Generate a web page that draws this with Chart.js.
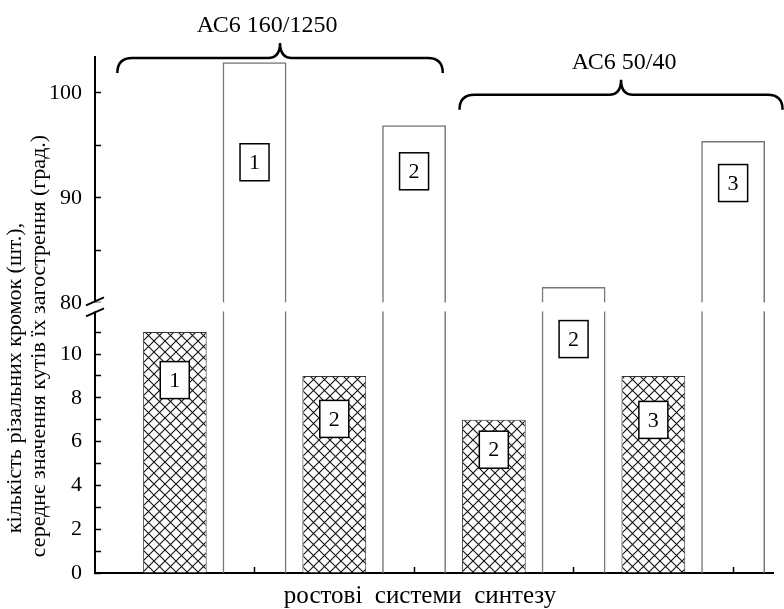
<!DOCTYPE html>
<html>
<head>
<meta charset="utf-8">
<script src="https://cdn.jsdelivr.net/npm/chart.js@4.4.1/dist/chart.umd.min.js"></script>
<style>
  body { margin: 0; background: #fff; }
  #wrap { width: 784px; height: 609px; }
</style>
</head>
<body>
<div id="wrap"><canvas id="growthChart"></canvas></div>
<script>
// values
const edgeX = [1, 3, 5, 7];                    // hatched bars
const edgeCounts = [11, 9, 7, 9];              // кількість різальних кромок, шт.
const edgeTags = ['1', '2', '2', '3'];
const angleX = [2, 4, 6, 8];                   // open bars
const meanAngles = [102.9, 96.9, 81.5, 95.4];  // середнє значення кутів, град.
const angleTags = ['1', '2', '2', '3'];
const groupLabels = ['АС6 160/1250', 'АС6 50/40'];
const xTicks = [1, 2, 3, 4, 5, 6, 7, 8];
const lowerTicks = [0, 1, 2, 3, 4, 5, 6, 7, 8, 9, 10, 11];
const upperTicks = [80, 85, 90, 95, 100];

const yTitle = ['кількість різальних кромок (шт.),', 'середнє значення кутів їх загострення (град.)'];
const xTitle = 'ростові  системи  синтезу';

// layout bits (px below bar top for the tag boxes, brace spans in axis units)
const tagDrops = { edges: [48, 43, 30, 44], angles: [100, 46, 52, 42] };
const braces = [
    { from: 0.28, to: 4.36, at: 103.3, dx: -13 },
    { from: 4.57, to: 8.62, at: 99.8, dx: 3 },
];

const SERIF = '"Liberation Serif", "Times New Roman", serif';

// cross hatch fill
function makeHatch() {
    const size = 11;
    const c = document.createElement('canvas');
    c.width = size;
    c.height = size;
    const g = c.getContext('2d');
    g.fillStyle = '#fff';
    g.fillRect(0, 0, size, size);
    g.strokeStyle = '#111';
    g.lineWidth = 1.1;
    g.beginPath();
    g.moveTo(-1, -1); g.lineTo(size + 1, size + 1);
    g.moveTo(size + 1, -1); g.lineTo(-1, size + 1);
    g.stroke();
    return g.createPattern(c, 'repeat');
}

function drawTag(ctx, x, y, text) {
    ctx.font = '22px ' + SERIF;
    const w = 29, h = 37;
    ctx.fillStyle = '#fff';
    ctx.fillRect(x - w / 2, y - h / 2, w, h);
    ctx.strokeStyle = '#000';
    ctx.lineWidth = 1.5;
    ctx.strokeRect(x - w / 2, y - h / 2, w, h);
    ctx.fillStyle = '#000';
    ctx.textAlign = 'center';
    ctx.textBaseline = 'middle';
    ctx.fillText(text, x, y + 1);
}

function drawBrace(ctx, x0, x1, yFlat) {
    const h = 15, r = 15, rc = 12;
    const xm = (x0 + x1) / 2;
    ctx.beginPath();
    ctx.moveTo(x0, yFlat + h);
    ctx.quadraticCurveTo(x0, yFlat, x0 + r, yFlat);
    ctx.lineTo(xm - rc, yFlat);
    ctx.quadraticCurveTo(xm, yFlat, xm, yFlat - h);
    ctx.quadraticCurveTo(xm, yFlat, xm + rc, yFlat);
    ctx.lineTo(x1 - r, yFlat);
    ctx.quadraticCurveTo(x1, yFlat, x1, yFlat + h);
    ctx.strokeStyle = '#000';
    ctx.lineWidth = 2.5;
    ctx.stroke();
    return xm;
}

const decor = {
    id: 'decor',
    afterDatasetsDraw(chart) {
        const ctx = chart.ctx;
        ctx.save();
        chart.getDatasetMeta(0).data.forEach((bar, i) => drawTag(ctx, bar.x, bar.y + tagDrops.edges[i], edgeTags[i]));
        chart.getDatasetMeta(1).data.forEach((bar, i) => drawTag(ctx, bar.x, bar.y + tagDrops.angles[i], angleTags[i]));
        ctx.restore();
    },
    afterDraw(chart) {
        const ctx = chart.ctx;
        const area = chart.chartArea;
        const xs = chart.scales.x, yl = chart.scales.y, yu = chart.scales.y2;
        ctx.save();

        // axis break
        const gapTop = yu.getPixelForValue(80) - 0.5;
        const gapBottom = yl.top + 1.2;
        ctx.fillStyle = '#fff';
        ctx.fillRect(area.left - 2, gapTop, area.right - area.left + 4, gapBottom - gapTop);
        ctx.strokeStyle = '#000';
        ctx.lineWidth = 2;
        [gapTop - 1, gapBottom + 1].forEach(yc => {
            ctx.beginPath();
            ctx.moveTo(area.left - 9, yc + 4);
            ctx.lineTo(area.left + 9, yc - 4);
            ctx.stroke();
        });

        // group braces with labels
        braces.forEach((b, i) => {
            const yFlat = yu.getPixelForValue(b.at);
            const xm = drawBrace(ctx, xs.getPixelForValue(b.from), xs.getPixelForValue(b.to), yFlat);
            ctx.font = '24px ' + SERIF;
            ctx.fillStyle = '#000';
            ctx.textAlign = 'center';
            ctx.textBaseline = 'middle';
            ctx.fillText(groupLabels[i], xm + b.dx, yFlat - 32);
        });

        // axis titles
        ctx.fillStyle = '#000';
        ctx.font = '25px ' + SERIF;
        ctx.textAlign = 'center';
        ctx.textBaseline = 'alphabetic';
        ctx.fillText(xTitle, 420, 603);

        ctx.font = '22px ' + SERIF;
        ctx.textBaseline = 'middle';
        [[15, 378], [39, 346]].forEach(([tx, ty], i) => {
            ctx.save();
            ctx.translate(tx, ty);
            ctx.rotate(-Math.PI / 2);
            ctx.fillText(yTitle[i], 0, 0);
            ctx.restore();
        });
        ctx.restore();
    }
};

const tickFont = { family: SERIF, size: 22 };

new Chart(document.getElementById('growthChart'), {
    type: 'bar',
    data: {
        datasets: [
            {
                label: 'кромки',
                data: edgeX.map((x, i) => ({ x: x, y: edgeCounts[i] })),
                yAxisID: 'y',
                backgroundColor: makeHatch(),
                borderColor: '#333',
                borderWidth: 1,
                grouped: false,
                categoryPercentage: 1,
                barPercentage: 0.8,
            },
            {
                label: 'кути',
                data: angleX.map((x, i) => ({ x: x, y: meanAngles[i] })),
                yAxisID: 'y2',
                base: 0,
                // bars run down through the lower part of the broken axis
                clip: { left: 2, right: 2, top: 2, bottom: 262.8 },
                backgroundColor: 'rgba(0,0,0,0)',
                borderColor: '#777',
                borderWidth: 1.5,
                grouped: false,
                categoryPercentage: 1,
                barPercentage: 0.8,
            },
        ],
    },
    options: {
        responsive: true,
        maintainAspectRatio: false,
        animation: false,
        layout: { padding: { top: 57, right: 11, left: 0, bottom: 0 } },
        plugins: {
            legend: { display: false },
            tooltip: { enabled: false },
        },
        scales: {
            x: {
                type: 'linear',
                min: 0,
                max: 8.5,
                offset: false,
                afterBuildTicks: s => { s.ticks = xTicks.map(v => ({ value: v })); },
                afterFit: s => { s.height = 36; },
                ticks: { display: false },
                grid: { offset: false, drawOnChartArea: false, tickLength: -6, tickWidth: 1.5, tickColor: '#000' },
                border: { color: '#000', width: 2 },
            },
            y: {
                type: 'linear',
                position: 'left',
                stack: 'v',
                stackWeight: 262.8,
                min: 0,
                max: 12,
                afterBuildTicks: s => { s.ticks = lowerTicks.map(v => ({ value: v })); },
                afterFit: s => { s.width = 95; },
                ticks: {
                    autoSkip: false,
                    callback: v => (v % 2 === 0 ? v : ''),
                    font: tickFont,
                    color: '#000',
                    padding: 19,
                },
                grid: { drawOnChartArea: false, tickLength: -6, tickWidth: 1.5, tickColor: '#000' },
                border: { color: '#000', width: 2 },
            },
            y2: {
                type: 'linear',
                position: 'left',
                stack: 'v',
                stackWeight: 253.2,
                min: 79.3,
                max: 103.4,
                afterBuildTicks: s => { s.ticks = upperTicks.map(v => ({ value: v })); },
                afterFit: s => { s.width = 95; },
                ticks: {
                    autoSkip: false,
                    callback: v => (v % 10 === 0 ? v : ''),
                    font: tickFont,
                    color: '#000',
                    padding: 19,
                },
                grid: { drawOnChartArea: false, tickLength: -6, tickWidth: 1.5, tickColor: '#000' },
                border: { color: '#000', width: 2 },
            },
        },
    },
    plugins: [decor],
});
</script>
</body>
</html>
